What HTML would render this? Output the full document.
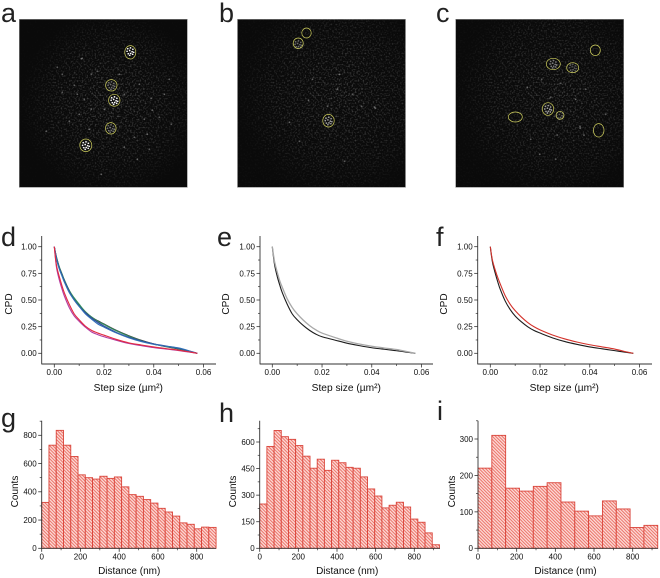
<!DOCTYPE html>
<html lang="en">
<head>
<meta charset="utf-8">
<title>Figure panels a to i</title>
<style>
html,body{margin:0;padding:0;background:#fff;}
body{width:660px;height:578px;overflow:hidden;}
svg{display:block;font-family:"Liberation Sans",sans-serif;}
</style>
</head>
<body>
<svg id="fig" xmlns="http://www.w3.org/2000/svg" width="660" height="578" viewBox="0 0 660 578">
<defs>
<pattern id="hatch" width="2.3" height="2.3" patternUnits="userSpaceOnUse" patternTransform="rotate(-45)">
<rect width="2.3" height="2.3" fill="#fcdcd8"/>
<rect x="0" width="1" height="2.3" fill="#ec7268"/>
</pattern>
<filter id="speck" x="0" y="0" width="100%" height="100%">
<feTurbulence type="fractalNoise" baseFrequency="0.62" numOctaves="1" seed="7"/>
<feColorMatrix type="matrix" values="0 0 0 0 1  0 0 0 0 1  0 0 0 0 1  2.6 0 0 0 -1.25"/>
<feGaussianBlur stdDeviation="0.35"/>
</filter>
<radialGradient id="fadeA" cx="0.55" cy="0.5" r="0.55"><stop offset="0" stop-color="#fff" stop-opacity="0.38"/><stop offset="0.7" stop-color="#fff" stop-opacity="0.18"/><stop offset="1" stop-color="#fff" stop-opacity="0.02"/></radialGradient>
<radialGradient id="fadeB" cx="0.6" cy="0.45" r="0.6"><stop offset="0" stop-color="#fff" stop-opacity="0.34"/><stop offset="0.7" stop-color="#fff" stop-opacity="0.18"/><stop offset="1" stop-color="#fff" stop-opacity="0.04"/></radialGradient>
<mask id="maskA"><rect x="0" y="0" width="168" height="168" fill="url(#fadeA)"/></mask>
<mask id="maskB"><rect x="0" y="0" width="168" height="168" fill="url(#fadeB)"/></mask>
<filter id="soft"><feGaussianBlur stdDeviation="0.3"/></filter>
<filter id="softer"><feGaussianBlur stdDeviation="0.35"/></filter>
</defs>

<g font-size="27" fill="#222">
<text x="1" y="22">a</text>
<text x="219" y="22">b</text>
<text x="436" y="22">c</text>
<text x="1" y="246">d</text>
<text x="217" y="246">e</text>
<text x="436" y="246">f</text>
<text x="1" y="427">g</text>
<text x="219" y="422">h</text>
<text x="437" y="420">i</text>
</g>
<g id="photos"></g>
<g id="charts" filter="url(#soft)"></g>
</svg>

<script>
/* ---------- CPD chart data (step size in um^2, CPD fraction) ---------- */
const stepSizes = [0,0.0005,0.001,0.002,0.003,0.004,0.006,0.008,0.01,0.0125,0.015,0.0175,0.02,0.025,0.03,0.035,0.04,0.045,0.05,0.055,0.0575];

const cpdD_navy    = [1,0.94,0.88,0.80,0.74,0.68,0.58,0.50,0.44,0.38,0.33,0.29,0.255,0.195,0.150,0.115,0.088,0.068,0.046,0.016,0];
const cpdD_green   = [1,0.94,0.89,0.81,0.75,0.69,0.59,0.52,0.46,0.39,0.34,0.30,0.270,0.210,0.160,0.118,0.086,0.064,0.042,0.014,0];
const cpdD_dark    = [1,0.94,0.89,0.81,0.75,0.69,0.59,0.51,0.45,0.39,0.34,0.305,0.275,0.215,0.165,0.122,0.088,0.062,0.040,0.013,0];
const cpdD_blue    = [1,0.93,0.87,0.79,0.73,0.67,0.57,0.50,0.44,0.37,0.32,0.275,0.245,0.190,0.145,0.110,0.084,0.066,0.050,0.018,0];
const cpdD_red     = [1,0.89,0.81,0.72,0.64,0.57,0.46,0.37,0.315,0.255,0.215,0.19,0.170,0.130,0.098,0.078,0.060,0.044,0.029,0.010,0];
const cpdD_magenta = [1,0.88,0.79,0.69,0.61,0.54,0.43,0.35,0.300,0.245,0.20,0.175,0.155,0.122,0.092,0.072,0.054,0.040,0.026,0.009,0];

const cpdE_black = [1,0.90,0.82,0.72,0.64,0.57,0.46,0.37,0.315,0.26,0.215,0.18,0.155,0.125,0.095,0.072,0.052,0.038,0.024,0.008,0];
const cpdE_grey  = [1,0.92,0.85,0.76,0.68,0.62,0.51,0.43,0.37,0.31,0.26,0.22,0.19,0.150,0.113,0.087,0.066,0.050,0.035,0.012,0];

const cpdF_black = [1,0.91,0.84,0.75,0.67,0.60,0.49,0.41,0.35,0.295,0.25,0.215,0.19,0.145,0.110,0.083,0.060,0.042,0.025,0.008,0];
const cpdF_red   = [1,0.92,0.86,0.78,0.71,0.65,0.54,0.46,0.40,0.34,0.29,0.25,0.22,0.172,0.135,0.105,0.080,0.060,0.040,0.012,0];

const cpdXTicks = ["0.00","0.02","0.04","0.06"];
const cpdYTicks = ["0.00","0.25","0.50","0.75","1.00"];

/* ---------- Histogram data (counts per bin) ---------- */
const countsG = [325,730,835,730,650,520,500,490,510,495,505,435,380,368,345,320,283,257,228,180,170,138,150,148];
const binWidthG = 37.5;
const yTicksG = [0,200,400,600,800];

const countsH = [250,575,665,630,615,580,520,452,503,440,497,483,457,452,403,335,295,228,243,260,233,165,147,87,20];
const binWidthH = 37.2;
const yTicksH = [0,150,300,450,600];

const countsI = [220,310,165,157,170,180,127,102,89,130,108,57,63];
const binWidthI = 71.5;
const yTicksI = [0,100,200,300];

const histXTicks = [0,200,400,600,800];

/* ---------- Microscopy image contents (image pixel offsets) ---------- */
const roisA = [[111,33,5.5,6.7],[92,66,5.7,5.7],[95,81,5.7,6],[91.5,109,5.3,5.7],[66.5,126,6,6.3]];
const roisB = [[69,13.7,4.7,5],[60.7,24,5,5.3],[91,101.4,5.7,6.3]];
const roisC = [[139.6,31,5,5.3],[97.6,44.7,7,5.7],[117,48.4,6,5],[92.3,89.7,5.7,6.3],[104.3,96,4,4],[59.6,97.7,7,5],[143,111,5.3,6.7]];
const clustersA = [[111,32,1],[95,81,1],[66.5,126,1],[92,66,0.4],[91.5,109,0.4]];
const clustersB = [[91,101.4,0.6],[60.7,25,0.4]];
const clustersC = [[92.3,89.7,0.6],[97.6,44.7,0.45],[117,48.4,0.3],[104.3,96,0.3]];
const dotsA = [[63,39],[62,39.5],[43,73],[58,75],[85,90],[133,91],[27,112],[82,155],[132,79],[128,115],[115,118],[152,105],[78,52],[55,66],[72,55],[145,75],[43,55],[72,90],[100,55],[120,65],[105,75],[60,95],[50,102],[125,100],[140,98],[105,128],[38,48],[130,130],[118,140],[150,60],[70,110],[65,80]];
const dotsB = [[137,88],[138,89],[52,103],[62,122],[71,81],[102,55],[124,87],[107,142],[90,87],[100,70],[115,75],[75,60]];
const dotsC = [[124.3,107],[124.5,109],[128.3,116],[101.6,115.7],[71.6,68],[84,135],[75,120],[100,140],[120,80],[105,64],[86,60],[150,95],[130,70],[95,78]];

const NS = 'http://www.w3.org/2000/svg';
const mk = (n) => document.createElementNS(NS, n);
const chartsRoot = document.getElementById('charts');
const photosRoot = document.getElementById('photos');
const clusterShape = [[-2.6,-2.6],[0.2,-3.4],[2.6,-2],[-3.2,0],[-0.6,-0.8],[1.8,0.4],[3.4,1],[-2,2.4],[0.4,2.2],[2.4,3],[-0.6,4]];

function drawPhoto(name, px, py, mask, rois, clusters, dots) {
  const g = mk('g');
  
  
  g.setAttribute('transform', 'translate(' + px + ',' + py + ')');
  photosRoot.appendChild(g);

  const bg = mk('rect');
  
  
  bg.setAttribute('width', 168);
  bg.setAttribute('height', 168);
  bg.setAttribute('fill', '#0a0a0a');
  bg.setAttribute('stroke', '#8a8a8a');
  bg.setAttribute('stroke-width', '0.6');
  g.appendChild(bg);

  const nw = mk('g');
  nw.setAttribute('mask', 'url(#' + mask + ')');
  g.appendChild(nw);

  const noise = mk('rect');
  
  
  noise.setAttribute('width', 168);
  noise.setAttribute('height', 168);
  noise.setAttribute('filter', 'url(#speck)');
  nw.appendChild(noise);

  dots.forEach(function (d) {
    const c = mk('circle');
    
    
    c.setAttribute('cx', d[0]);
    c.setAttribute('cy', d[1]);
    c.setAttribute('r', 0.9);
    c.setAttribute('fill', '#fff');
    c.setAttribute('fill-opacity', 0.32);
    c.setAttribute('filter', 'url(#softer)');
    g.appendChild(c);
  });

  clusters.forEach(function (b) {
    clusterShape.forEach(function (o) {
      const c = mk('circle');
      
      
      c.setAttribute('cx', b[0] + o[0]);
      c.setAttribute('cy', b[1] + o[1]);
      c.setAttribute('r', 0.85);
      c.setAttribute('fill', '#fff');
      c.setAttribute('fill-opacity', b[2]);
      c.setAttribute('filter', 'url(#softer)');
      g.appendChild(c);
    });
  });

  rois.forEach(function (r) {
    const e = mk('ellipse');
    
    
    e.setAttribute('cx', r[0]);
    e.setAttribute('cy', r[1]);
    e.setAttribute('rx', r[2]);
    e.setAttribute('ry', r[3]);
    e.setAttribute('fill', 'none');
    e.setAttribute('stroke', '#cfcf5e');
    e.setAttribute('stroke-width', '0.7');
    g.appendChild(e);
  });
}

function addLine(parent, name, x1, y1, x2, y2, w) {
  const l = mk('line');
  
  
  l.setAttribute('x1', x1);
  l.setAttribute('y1', y1);
  l.setAttribute('x2', x2);
  l.setAttribute('y2', y2);
  l.setAttribute('stroke', '#333');
  l.setAttribute('stroke-width', w);
  parent.appendChild(l);
}

function addText(parent, name, str, x, y, size, anchor, rot) {
  const t = mk('text');
  
  
  t.setAttribute('x', x);
  t.setAttribute('y', y);
  t.setAttribute('font-size', size);
  t.setAttribute('text-anchor', anchor);
  t.setAttribute('fill', '#111');
  if (rot) t.setAttribute('transform', 'rotate(-90 ' + x + ' ' + y + ')');
  t.textContent = str;
  parent.appendChild(t);
}

function smoothPath(pts) {
  let d = 'M' + pts[0][0].toFixed(2) + ' ' + pts[0][1].toFixed(2);
  for (let i = 0; i < pts.length - 1; i++) {
    const p0 = pts[Math.max(0, i - 1)], p1 = pts[i], p2 = pts[i + 1], p3 = pts[Math.min(pts.length - 1, i + 2)];
    d += ' C' + (p1[0] + (p2[0] - p0[0]) / 6).toFixed(2) + ' ' + (p1[1] + (p2[1] - p0[1]) / 6).toFixed(2) +
         ' ' + (p2[0] - (p3[0] - p1[0]) / 6).toFixed(2) + ' ' + (p2[1] - (p3[1] - p1[1]) / 6).toFixed(2) +
         ' ' + p2[0].toFixed(2) + ' ' + p2[1].toFixed(2);
  }
  return d;
}

function drawCpd(name, ax, x0, right, ylabelX, series) {
  const g = mk('g');
  
  
  chartsRoot.appendChild(g);
  const axisY = 364, top = 236;
  const sx = (v) => x0 + v * (149.2 / 0.06);
  const sy = (v) => 353.3 - v * 106.6;
  addLine(g, 'y-axis', ax, top, ax, axisY + 0.4, 0.9);
  addLine(g, 'x-axis', ax, axisY, right, axisY, 0.9);
  cpdXTicks.forEach(function (lab) {
    const v = parseFloat(lab);
    addLine(g, 'x-tick', sx(v), axisY, sx(v), axisY + 3.5, 0.8);
    addText(g, 'x-tick-label', lab, sx(v), 375, 8, 'middle');
    if (v < 0.06) addLine(g, 'x-minor-tick', sx(v + 0.01), axisY, sx(v + 0.01), axisY + 2, 0.7);
  });
  cpdYTicks.forEach(function (lab) {
    const v = parseFloat(lab);
    addLine(g, 'y-tick', ax - 3.5, sy(v), ax, sy(v), 0.8);
    addText(g, 'y-tick-label', lab, ax - 5, sy(v) + 2.9, 8, 'end');
    if (v < 1) addLine(g, 'y-minor-tick', ax - 2, sy(v + 0.125), ax, sy(v + 0.125), 0.7);
  });
  addText(g, 'x-axis-title', 'Step size (µm²)', x0 + 74, 391, 10.2, 'middle');
  addText(g, 'y-axis-title', 'CPD', ylabelX, 304, 10, 'middle', true);
  series.forEach(function (s) {
    const pts = stepSizes.map(function (x, i) { return [sx(x), sy(s.values[i])]; });
    const p = mk('path');
    
    
    p.setAttribute('d', smoothPath(pts));
    p.setAttribute('fill', 'none');
    p.setAttribute('stroke', s.color);
    p.setAttribute('stroke-width', s.w || 1.1);
    g.appendChild(p);
  });
}

function drawHist(name, ax, x800, right, yPerUnit, counts, binWidth, yTicks, minorStep, ylabelX) {
  const g = mk('g');
  
  
  chartsRoot.appendChild(g);
  const base = 548.3, top = 420.7;
  const sx = (v) => ax + v * ((x800 - ax) / 800);
  const sy = (v) => base - v * yPerUnit;
  counts.forEach(function (c, i) {
    const r = mk('rect');
    
    
    r.setAttribute('x', sx(i * binWidth));
    r.setAttribute('y', sy(c));
    r.setAttribute('width', sx((i + 1) * binWidth) - sx(i * binWidth));
    r.setAttribute('height', base - sy(c));
    r.setAttribute('fill', 'url(#hatch)');
    r.setAttribute('stroke', '#d9443a');
    r.setAttribute('stroke-width', '0.9');
    g.appendChild(r);
  });
  addLine(g, 'y-axis', ax, top, ax, base + 0.4, 0.9);
  addLine(g, 'x-axis', ax, base, right, base, 0.9);
  histXTicks.forEach(function (v) {
    addLine(g, 'x-tick', sx(v), base, sx(v), base + 3.5, 0.8);
    addText(g, 'x-tick-label', String(v), sx(v), 559.5, 8, 'middle');
    if (sx(v + 100) <= right) addLine(g, 'x-minor-tick', sx(v + 100), base, sx(v + 100), base + 2, 0.7);
  });
  yTicks.forEach(function (v) {
    addLine(g, 'y-tick', ax - 3.5, sy(v), ax, sy(v), 0.8);
    addText(g, 'y-tick-label', String(v), ax - 5, sy(v) + 2.9, 8, 'end');
    if (sy(v + minorStep) >= top) addLine(g, 'y-minor-tick', ax - 2, sy(v + minorStep), ax, sy(v + minorStep), 0.7);
  });
  addText(g, 'x-axis-title', 'Distance (nm)', ax + 87.5, 574, 10, 'middle');
  addText(g, 'y-axis-title', 'Counts', ylabelX, 491.5, 10, 'middle', true);
}

drawPhoto('a', 19.3, 19.3, 'maskA', roisA, clustersA, dotsA);
drawPhoto('b', 237.5, 19.3, 'maskB', roisB, clustersB, dotsB);
drawPhoto('c', 455.7, 19.3, 'maskB', roisC, clustersC, dotsC);

drawCpd('cpd-chart-d', 41.7, 54.3, 216, 12, [
  {name:'curve-dark', values:cpdD_dark, color:'#3b3b3b'},
  {name:'curve-green', values:cpdD_green, color:'#2f8f5f'},
  {name:'curve-navy', values:cpdD_navy, color:'#33429a'},
  {name:'curve-blue', values:cpdD_blue, color:'#2f6fb5'},
  {name:'curve-magenta', values:cpdD_magenta, color:'#b23aa0'},
  {name:'curve-red', values:cpdD_red, color:'#e22a40'}
]);
drawCpd('cpd-chart-e', 260, 272.3, 433, 229, [
  {name:'curve-black', values:cpdE_black, color:'#1c1c1c'},
  {name:'curve-grey', values:cpdE_grey, color:'#a8a8a8', w:1.3}
]);
drawCpd('cpd-chart-f', 477.7, 490.3, 652, 447, [
  {name:'curve-black', values:cpdF_black, color:'#1c1c1c'},
  {name:'curve-red', values:cpdF_red, color:'#d3312b'}
]);

drawHist('histogram-g', 41.7, 196.7, 216, 113 / 800, countsG, binWidthG, yTicksG, 100, 18);
drawHist('histogram-h', 259.7, 414.3, 440, 106.3 / 600, countsH, binWidthH, yTicksH, 75, 236);
drawHist('histogram-i', 478, 632.7, 658, 109.3 / 300, countsI, binWidthI, yTicksI, 50, 455);
</script>
</body>
</html>
